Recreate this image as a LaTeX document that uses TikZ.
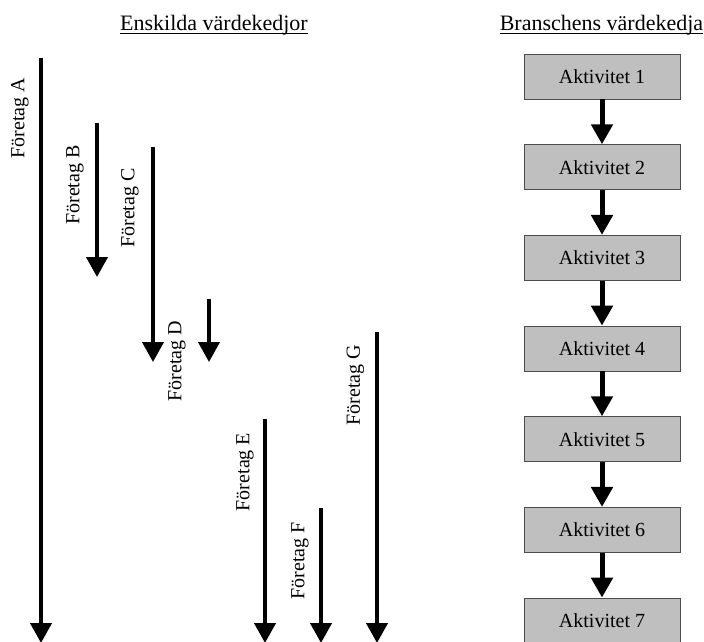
\documentclass[tikz,border=0pt]{standalone}
\usepackage{fontspec}
\setmainfont{Liberation Serif}
\usetikzlibrary{arrows.meta}
\begin{document}
\begin{tikzpicture}[x=1pt,y=-1pt,
  larrow/.style={line width=4pt,-{Triangle[length=20pt,width=21pt]}},
  rarrow/.style={line width=5pt,-{Triangle[length=20pt,width=21pt]}},
  lab/.style={rotate=90,inner sep=0pt,font=\fontsize{20}{24}\selectfont},
  title/.style={inner sep=0pt,anchor=base,font=\fontsize{22}{26}\selectfont},
  uline/.style={line width=1pt},
  akt/.style={draw=black!70,line width=0.8pt,fill=black!25,minimum width=156pt,minimum height=45pt,inner sep=0pt,font=\fontsize{20}{24}\selectfont}]
\useasboundingbox (0,0) rectangle (704,641);
% titles
\node[title] (t1) at (214,30) {Enskilda värdekedjor};
\node[title] (t2) at (601.5,30) {Branschens värdekedja};
\draw[uline] ([yshift=-3pt]t1.base west) -- ([yshift=-3pt]t1.base east);
\draw[uline] ([yshift=-3pt]t2.base west) -- ([yshift=-3pt]t2.base east);
% left arrows
\coordinate (As) at (41,58);  \coordinate (Ae) at (41,643);
\coordinate (Bs) at (97,123); \coordinate (Be) at (97,277);
\coordinate (Cs) at (153,147);\coordinate (Ce) at (153,362);
\coordinate (Ds) at (209,299);\coordinate (De) at (209,362);
\coordinate (Es) at (265,419);\coordinate (Ee) at (265,643);
\coordinate (Fs) at (321,508);\coordinate (Fe) at (321,643);
\coordinate (Gs) at (377,332);\coordinate (Ge) at (377,643);
\foreach \n in {A,B,C,D,E,F,G}{\draw[larrow] (\n s) -- (\n e);}
\node[lab] (lA) at (20,118) {Företag A};
\node[lab] (lB) at (75,185) {Företag B};
\node[lab] (lC) at (130,208) {Företag C};
\node[lab] (lD) at (177,361) {Företag D};
\node[lab] (lE) at (245,472) {Företag E};
\node[lab] (lF) at (300,561) {Företag F};
\node[lab] (lG) at (355.5,385) {Företag G};
% right chain
\foreach \i in {1,...,7}{
  \node[akt] (b\i) at (602,{76.5+(\i-1)*90.67}) {Aktivitet \i};
}
\foreach \i [evaluate=\i as \j using int(\i+1)] in {1,...,6}{
  \draw[rarrow] (b\i.south) -- (b\j.north);
}
\end{tikzpicture}
\end{document}
